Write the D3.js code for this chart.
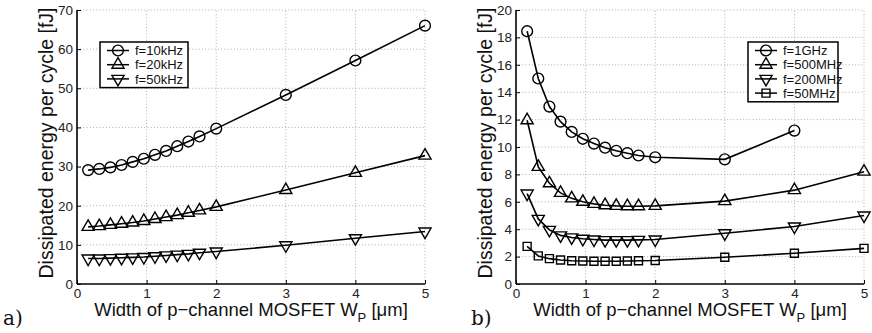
<!DOCTYPE html>
<html>
<head>
<meta charset="utf-8">
<script src="https://cdn.jsdelivr.net/npm/d3@7"></script>
<style>
  body { margin: 0; background: #fff; }
  svg { display: block; font-family: "Liberation Sans", Arial, sans-serif; }
  .grid line { stroke: #9a9a9a; stroke-width: 0.8; stroke-dasharray: 1 2.2; }
  .tick-label { font-size: 13.5px; fill: #222; }
  .x-title { font-size: 18.5px; fill: #111; }
  .y-title { font-size: 19.5px; fill: #111; }
  .legend-text { font-size: 13px; fill: #111; }
</style>
</head>
<body>
<svg id="chart" width="872" height="333"></svg>
<script>
// shared x positions (p-channel width, µm)
const widths = [0.16, 0.32, 0.48, 0.64, 0.8, 0.96, 1.12, 1.28, 1.44, 1.6, 1.76, 2, 3, 4, 5];

// panel a) low frequency
const lowFreqNames = ["f=10kHz", "f=20kHz", "f=50kHz"];
const e10k = [29.1, 29.4, 29.8, 30.4, 31.2, 32.0, 33.0, 34.0, 35.2, 36.4, 37.7, 39.7, 48.3, 57.1, 66.0];
const e20k = [14.6, 14.8, 15.1, 15.4, 15.7, 16.1, 16.6, 17.1, 17.6, 18.2, 18.8, 19.7, 24.0, 28.4, 32.8];
const e50k = [6.5, 6.5, 6.6, 6.7, 6.8, 6.9, 7.1, 7.3, 7.5, 7.7, 8.0, 8.3, 9.9, 11.7, 13.4];

// panel b) high frequency (1 GHz has no point at 5 µm)
const highFreqNames = ["f=1GHz", "f=500MHz", "f=200MHz", "f=50MHz"];
const e1g = [18.45, 15.0, 12.95, 11.85, 11.1, 10.6, 10.25, 9.95, 9.72, 9.55, 9.38, 9.25, 9.1, 11.2];
const e500m = [11.95, 8.55, 7.35, 6.65, 6.25, 6.0, 5.85, 5.75, 5.7, 5.68, 5.68, 5.7, 6.05, 6.85, 8.2];
const e200m = [6.6, 4.75, 3.95, 3.55, 3.4, 3.3, 3.25, 3.2, 3.2, 3.2, 3.22, 3.25, 3.7, 4.2, 5.0];
const e50m = [2.75, 2.05, 1.85, 1.75, 1.7, 1.68, 1.66, 1.66, 1.66, 1.68, 1.7, 1.72, 1.95, 2.25, 2.6];

const xTicks = [0, 1, 2, 3, 4, 5];
const yTicksA = [0, 10, 20, 30, 40, 50, 60, 70];
const yTicksB = [0, 2, 4, 6, 8, 10, 12, 14, 16, 18, 20];

const svg = d3.select("#chart");

const markers = {
  circle: d3.symbol(d3.symbolCircle, 92),
  up: d3.symbol(d3.symbolTriangle, 64),
  down: d3.symbol(d3.symbolTriangle, 64),
  square: d3.symbol(d3.symbolSquare, 64),
};

function drawMarker(g, kind, x, y) {
  g.append("path")
    .attr("d", markers[kind]())
    .attr("transform", `translate(${x},${y})` + (kind === "down" ? " rotate(180)" : ""))
    .attr("fill", "none")
    .attr("stroke", "#000")
    .attr("stroke-width", 1.4);
}

function panel({ left, right, top, bottom, yMax, yTicks, series, legend, tag, tagX }) {
  const x = d3.scaleLinear().domain([0, 5]).range([left, right]);
  const y = d3.scaleLinear().domain([0, yMax]).range([bottom, top]);
  const g = svg.append("g");

  const grid = g.append("g").attr("class", "grid");
  grid.selectAll(".gx").data(xTicks.slice(1)).join("line")
    .attr("x1", d => x(d)).attr("x2", d => x(d))
    .attr("y1", bottom).attr("y2", top);
  grid.selectAll(".gy").data(yTicks.slice(1)).join("line")
    .attr("x1", left).attr("x2", right)
    .attr("y1", d => y(d)).attr("y2", d => y(d));

  // axes: ticks point inward, matlab style
  g.append("g").attr("transform", `translate(0,${bottom})`)
    .call(d3.axisBottom(x).tickValues(xTicks).tickSize(-4).tickPadding(4).tickFormat(d3.format("d")))
    .call(a => a.select(".domain").attr("d", `M${left},0H${right}`).attr("stroke-width", 1.6))
    .call(a => a.selectAll("text").attr("class", "tick-label").attr("font-size", null).attr("font-family", null));
  g.append("g").attr("transform", `translate(${left},0)`)
    .call(d3.axisLeft(y).tickValues(yTicks).tickSize(-4).tickPadding(4).tickFormat(d3.format("d")))
    .call(a => a.select(".domain").attr("d", `M0,${bottom}V${top}`).attr("stroke-width", 1.6))
    .call(a => a.selectAll("text").attr("class", "tick-label").attr("font-size", null).attr("font-family", null));

  const line = d3.line().x((d, i) => x(widths[i])).y(d => y(d));
  series.forEach(s => {
    g.append("path").attr("d", line(s.values))
      .attr("fill", "none").attr("stroke", "#000").attr("stroke-width", 1.6);
    s.values.forEach((v, i) => drawMarker(g, s.marker, x(widths[i]), y(v)));
  });

  // legend
  const lg = g.append("g").attr("transform", `translate(${legend.x},${legend.y})`);
  const rowH = 14.2;
  lg.append("rect")
    .attr("width", legend.w).attr("height", series.length * rowH + 3)
    .attr("fill", "#fff").attr("stroke", "#000").attr("stroke-width", 1.5);
  series.forEach((s, i) => {
    const cy = 8.5 + i * rowH;
    lg.append("line").attr("x1", 7).attr("x2", 29).attr("y1", cy).attr("y2", cy)
      .attr("stroke", "#000").attr("stroke-width", 1.5);
    drawMarker(lg, s.marker, 18, cy);
    lg.append("text").attr("class", "legend-text")
      .attr("x", 35).attr("y", cy + 4.6).text(s.name);
  });

  g.append("text").attr("class", "y-title")
    .attr("transform", `translate(${left - 24},${(top + bottom) / 2 - 4}) rotate(-90)`)
    .attr("text-anchor", "middle")
    .text("Dissipated energy per cycle [fJ]");

  const xt = g.append("text").attr("class", "x-title")
    .attr("x", (left + right) / 2).attr("y", 316)
    .attr("text-anchor", "middle");
  xt.append("tspan").text("Width of p\u2212channel MOSFET W");
  xt.append("tspan").attr("font-size", "13px").attr("dy", 6).text("P");
  xt.append("tspan").attr("dy", -6).text(" [\u03bcm]");

  g.append("text").attr("x", tagX).attr("y", 325)
    .attr("font-family", "'DejaVu Serif', 'Liberation Serif', serif")
    .attr("font-size", "20px").attr("fill", "#111").text(tag);
}

panel({
  left: 77, right: 425, top: 10, bottom: 284, yMax: 70, yTicks: yTicksA,
  series: [
    { name: lowFreqNames[0], values: e10k, marker: "circle" },
    { name: lowFreqNames[1], values: e20k, marker: "up" },
    { name: lowFreqNames[2], values: e50k, marker: "down" },
  ],
  legend: { x: 100, y: 42, w: 88 }, tag: "a)", tagX: 3,
});

panel({
  left: 516, right: 864, top: 10, bottom: 284, yMax: 20, yTicks: yTicksB,
  series: [
    { name: highFreqNames[0], values: e1g, marker: "circle" },
    { name: highFreqNames[1], values: e500m, marker: "up" },
    { name: highFreqNames[2], values: e200m, marker: "down" },
    { name: highFreqNames[3], values: e50m, marker: "square" },
  ],
  legend: { x: 748, y: 42, w: 90 }, tag: "b)", tagX: 471,
});
</script>
</body>
</html>
